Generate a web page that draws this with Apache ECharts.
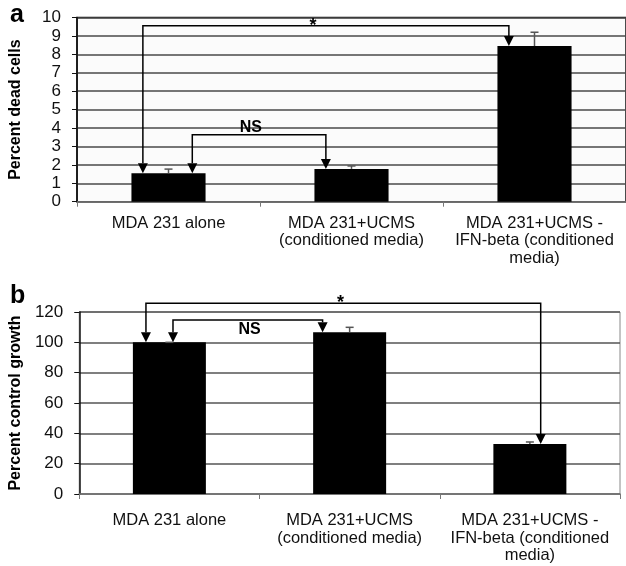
<!DOCTYPE html>
<html>
<head>
<meta charset="utf-8">
<script src="https://cdn.jsdelivr.net/npm/echarts@6/dist/echarts.min.js"></script>
<style>
  html, body { margin: 0; padding: 0; background: #fff; }
  #main { width: 626px; height: 566px; }
</style>
</head>
<body>
<div id="main"></div>
<script>
// categories shared by both panels
const categories = [
  'MDA 231 alone',
  'MDA 231+UCMS\n(conditioned media)',
  'MDA 231+UCMS -\nIFN-beta (conditioned\nmedia)'
];

// panel a: percent dead cells
const deadCells = [1.55, 1.78, 8.45];
const deadCellsErr = [0.22, 0.16, 0.75];
const ticksA = { min: 0, max: 10, interval: 1 };

// panel b: percent control growth
const growth = [100, 106.6, 33];
const growthErr = [0, 3.3, 1.3];
const ticksB = { min: 0, max: 120, interval: 20 };

// significance brackets (category index + offset in band widths)
const sigA = [
  { from: 0, fromOff: -0.14, to: 2, toOff: -0.14, level: 9.55, mark: '*', markX: 0.79, markY: 9.55 },
  { from: 0, fromOff: 0.13, to: 1, toOff: -0.14, level: 3.63, mark: 'NS', markX: 0.45, markY: 4.0 }
];
const sigB = [
  { from: 0, fromOff: -0.13, to: 2, toOff: 0.06, level: 125.7, mark: '*', markX: 0.95, markY: 125.7 },
  { from: 0, fromOff: 0.02, to: 1, toOff: -0.15, level: 114.7, mark: 'NS', markX: 0.445, markY: 108.1 }
];

const FONT = '"Liberation Sans", Arial, sans-serif';

const chart = echarts.init(document.getElementById('main'));

function errorRender(errs) {
  return function (params, api) {
    const i = api.value(0);
    const v = api.value(1);
    const p0 = api.coord([i, v]);
    const p1 = api.coord([i, v + errs[params.dataIndex]]);
    const st = { stroke: '#555', lineWidth: 1.5 };
    return {
      type: 'group',
      children: [
        { type: 'line', shape: { x1: p0[0], y1: p0[1], x2: p1[0], y2: p1[1] }, style: st },
        { type: 'line', shape: { x1: p1[0] - 4, y1: p1[1], x2: p1[0] + 4, y2: p1[1] }, style: st }
      ]
    };
  };
}

function bracketRender(sigs, values) {
  return function (params, api) {
    const s = sigs[params.dataIndex];
    const band = api.size([1, 0])[0];
    const xa = api.coord([s.from, 0])[0] + s.fromOff * band;
    const xb = api.coord([s.to, 0])[0] + s.toOff * band;
    const yl = api.coord([0, s.level])[1];
    const ya = api.coord([0, values[s.from]])[1];
    const yb = api.coord([0, values[s.to]])[1];
    const mx = api.coord([0, 0])[0] + s.markX * band;
    const my = api.coord([0, s.markY])[1];
    const ah = 10, aw = 5;
    const line = { stroke: '#000', lineWidth: 1.5, fill: null };
    return {
      type: 'group',
      children: [
        { type: 'polyline', shape: { points: [[xa, ya - ah], [xa, yl], [xb, yl], [xb, yb - ah]] }, style: line },
        { type: 'polygon', shape: { points: [[xa - aw, ya - ah], [xa + aw, ya - ah], [xa, ya]] }, style: { fill: '#000' } },
        { type: 'polygon', shape: { points: [[xb - aw, yb - ah], [xb + aw, yb - ah], [xb, yb]] }, style: { fill: '#000' } },
        {
          type: 'text',
          x: mx, y: my,
          style: {
            text: s.mark, fill: '#000',
            font: 'bold ' + (s.mark === '*' ? 18 : 16) + 'px ' + FONT,
            align: 'center', verticalAlign: 'middle'
          }
        }
      ]
    };
  };
}

function catAxis(gridIndex, margin) {
  return {
    type: 'category',
    gridIndex: gridIndex,
    data: categories,
    axisLine: { lineStyle: { color: '#777', width: 1.5 } },
    axisTick: { show: true, length: 5, lineStyle: { color: '#777' } },
    axisLabel: {
      interval: 0, margin: margin, color: '#111',
      fontFamily: FONT, fontSize: 16.5, lineHeight: 17.5
    }
  };
}

function valAxis(gridIndex, ticks, name, gridColor) {
  return {
    type: 'value',
    gridIndex: gridIndex,
    min: ticks.min, max: ticks.max, interval: ticks.interval,
    name: name,
    nameLocation: 'middle',
    nameRotate: 90,
    nameGap: 53,
    nameTextStyle: { fontFamily: FONT, fontSize: 16, fontWeight: 'bold', color: '#000' },
    axisLine: { show: true, lineStyle: { color: '#111', width: 1.5 } },
    axisTick: { show: true, length: 5, lineStyle: { color: '#111' } },
    axisLabel: { margin: 16, color: '#111', fontFamily: FONT, fontSize: 17 },
    splitLine: { show: true, lineStyle: { color: gridColor, width: 1.5 } }
  };
}

const option = {
  animation: false,
  backgroundColor: '#fff',
  grid: [
    { left: 77, top: 17.5, height: 184.2, width: 556, show: true, borderColor: '#111', borderWidth: 1.5, backgroundColor: '#fbfbfb' },
    { left: 77, top: 312, height: 182, width: 543, show: true, borderColor: '#888', borderWidth: 1 }
  ],
  xAxis: [catAxis(0, 13), catAxis(1, 18)],
  yAxis: [
    valAxis(0, ticksA, 'Percent dead cells', '#4a4a4a'),
    valAxis(1, ticksB, 'Percent control growth', '#555')
  ],
  graphic: [
    { type: 'text', left: 10, top: 3, style: { text: 'a', font: 'bold 25px ' + FONT, fill: '#000' } },
    { type: 'text', left: 10, top: 284, style: { text: 'b', font: 'bold 25px ' + FONT, fill: '#000' } }
  ],
  series: [
    {
      type: 'bar', xAxisIndex: 0, yAxisIndex: 0, data: deadCells,
      barWidth: '40.5%', itemStyle: { color: '#000' }
    },
    {
      type: 'custom', xAxisIndex: 0, yAxisIndex: 0, z: 3,
      data: deadCells.map((v, i) => [i, v]),
      renderItem: errorRender(deadCellsErr)
    },
    {
      type: 'custom', xAxisIndex: 0, yAxisIndex: 0, z: 4,
      data: sigA.map((s, i) => [i, s.level]),
      renderItem: bracketRender(sigA, deadCells)
    },
    {
      type: 'bar', xAxisIndex: 1, yAxisIndex: 1, data: growth,
      barWidth: '40.5%', itemStyle: { color: '#000' }
    },
    {
      type: 'custom', xAxisIndex: 1, yAxisIndex: 1, z: 3,
      data: growth.map((v, i) => [i, v]),
      renderItem: errorRender(growthErr)
    },
    {
      type: 'custom', xAxisIndex: 1, yAxisIndex: 1, z: 4,
      data: sigB.map((s, i) => [i, s.level]),
      renderItem: bracketRender(sigB, growth)
    }
  ]
};

chart.setOption(option);
window.addEventListener('resize', chart.resize);
</script>
</body>
</html>
